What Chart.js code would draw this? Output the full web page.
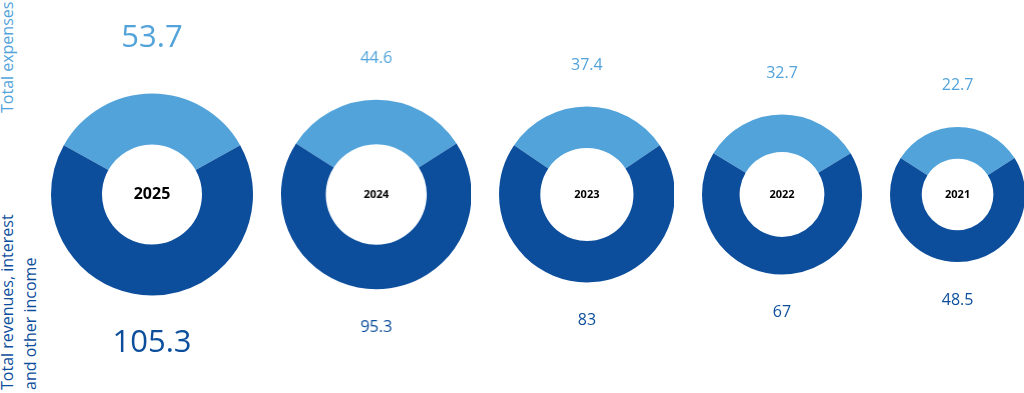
<!DOCTYPE html>
<html lang="en">
<head>
    <meta charset="UTF-8">
    <title>Revenues vs expenses</title>
    <script src="https://cdn.jsdelivr.net/npm/chart.js"></script>
    <style>
        html, body {
            margin: 0;
            padding: 0;
            background: #fff;
            font-family: 'Open Sans', sans-serif;
        }
        #page {
            position: relative;
            width: 1024px;
            height: 393px;
            overflow: hidden;
        }
        .axis-title {
            position: absolute;
            left: -4px;
            font-size: 16px;
            line-height: 23px;
            white-space: nowrap;
            transform: rotate(-90deg);
            transform-origin: top left;
        }
        #row {
            position: absolute;
            left: 51px;
            top: 0;
            height: 393px;
            display: flex;
            gap: 28px;
        }
        .donut {
            position: relative;
            height: 393px;
        }
    </style>
</head>
<body>
    <div id="page">
        <div class="axis-title" style="top: 113px; color: #52A3DA;">Total expenses</div>
        <div class="axis-title" style="top: 390px; color: #0C4E9C;">Total revenues, interest<br>and other income</div>
        <div id="row"></div>
    </div>

    <script>
        const years = ['2025', '2024', '2023', '2022', '2021'];
        const expenses = [53.7, 44.6, 37.4, 32.7, 22.7];
        const revenues = [105.3, 95.3, 83, 67, 48.5];

        const lightBlue = '#52A3DA';
        const darkBlue = '#0C4E9C';
        const biggestRadius = 101; // px, for the largest ring

        const totals = years.map((y, i) => expenses[i] + revenues[i]);
        const maxTotal = Math.max(...totals);

        // value labels above/below each ring, year in the middle
        const labelPlugin = {
            id: 'ringLabels',
            afterDraw(chart) {
                const arc = chart.getDatasetMeta(0).data[0];
                if (!arc) return;
                const i = chart.options.plugins.ringLabels.index;
                const big = i === 0;
                const ctx = chart.ctx;
                const r = arc.outerRadius;
                ctx.save();
                ctx.textAlign = 'center';
                ctx.textBaseline = 'middle';

                ctx.font = (big ? 31 : 16) + 'px "Open Sans"';
                ctx.fillStyle = lightBlue;
                ctx.fillText(String(expenses[i]), arc.x, arc.y - r - (big ? 55 : 41));
                ctx.fillStyle = darkBlue;
                ctx.fillText(String(revenues[i]), arc.x, arc.y + r + (big ? 48 : 38));

                ctx.font = 'bold ' + (big ? 16 : 11) + 'px "Open Sans"';
                ctx.fillStyle = '#000';
                ctx.fillText(years[i], arc.x, arc.y);
                ctx.restore();
            }
        };

        const row = document.getElementById('row');

        years.forEach((year, i) => {
            // ring area follows the total
            const r = biggestRadius * Math.sqrt(totals[i] / maxTotal);
            const box = document.createElement('div');
            box.className = 'donut';
            box.style.width = (2 * r).toFixed(1) + 'px';
            const canvas = document.createElement('canvas');
            box.appendChild(canvas);
            row.appendChild(box);

            new Chart(canvas, {
                type: 'doughnut',
                data: {
                    labels: ['Total expenses', 'Total revenues, interest and other income'],
                    datasets: [{
                        data: [expenses[i], revenues[i]],
                        backgroundColor: [lightBlue, darkBlue],
                        borderWidth: 0
                    }]
                },
                options: {
                    responsive: true,
                    maintainAspectRatio: false,
                    animation: false,
                    cutout: i === 0 ? '49.5%' : '53%',
                    rotation: -180 * expenses[i] / totals[i],
                    layout: { padding: { bottom: 4 } },
                    plugins: {
                        legend: { display: false },
                        tooltip: { enabled: false },
                        ringLabels: { index: i }
                    }
                },
                plugins: [labelPlugin]
            });
        });
    </script>
</body>
</html>
